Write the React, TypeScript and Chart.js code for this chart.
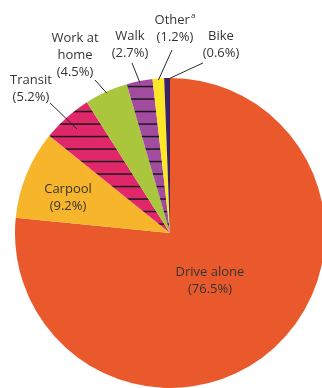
import { useEffect, useRef } from "react";
import { Chart, registerables } from "chart.js";

Chart.register(...registerables);

// ---- data ----
const categories = ["Drive alone", "Carpool", "Transit", "Work at home", "Walk", "Other", "Bike"];
const shares = [76.5, 9.2, 5.2, 4.5, 2.7, 1.2, 0.6];
const labelLines = [["Drive alone"], ["Carpool"], ["Transit"], ["Work at", "home"], ["Walk"], ["Other"], ["Bike"]];
const superscripts = ["", "", "", "", "", "a", ""];

// ---- styles ----
const colors = ["#E9592B", "#F7B52C", "#E0276A", "#A9C63C", "#A14C9E", "#FCE825", "#3B2167"];
const striped = [false, false, true, false, true, false, false];
// label placement relative to pie centre, in units of radius
const textPos = [
  [0.258, 0.31],
  [-0.658, -0.229],
  [-0.897, -0.932],
  [-0.613, -1.148],
  [-0.258, -1.216],
  [0.032, -1.319],
  [0.329, -1.216],
];
const leaderStart: (number[] | null)[] = [
  null,
  null,
  [-0.774, -0.839],
  [-0.484, -0.987],
  [-0.245, -1.097],
  [0.013, -1.181],
  [0.213, -1.097],
];
const leaderDepth = [0, 0, 0.9, 0.99, 0.99, 0.99, 0.99];

const FONT_FAMILY = "'Open Sans', 'Noto Sans', sans-serif";
const FONT_SIZE = 13;
const LINE_H = 17;

function makeStripes(color: string): CanvasPattern | string {
  const c = document.createElement("canvas");
  c.width = 8;
  c.height = 25;
  const ctx = c.getContext("2d");
  if (!ctx) return color;
  ctx.fillStyle = color;
  ctx.fillRect(0, 0, 8, 25);
  ctx.fillStyle = "#1a1a1a";
  ctx.fillRect(0, 10.8, 8, 1.5);
  ctx.fillRect(0, 23.3, 8, 1.5);
  const p = ctx.createPattern(c, "repeat");
  return p || color;
}

const labelPlugin = {
  id: "pieLabels",
  afterDatasetsDraw(chart: any) {
    const ctx: CanvasRenderingContext2D = chart.ctx;
    const meta = chart.getDatasetMeta(0);
    ctx.save();
    meta.data.forEach((arc: any, i: number) => {
      const { x, y, startAngle, endAngle, outerRadius } = arc.getProps(
        ["x", "y", "startAngle", "endAngle", "outerRadius"],
        true
      );
      const R = outerRadius;
      const mid = (startAngle + endAngle) / 2;
      const ls = leaderStart[i];
      if (ls) {
        ctx.strokeStyle = "#2a2a2a";
        ctx.lineWidth = 1;
        ctx.beginPath();
        ctx.moveTo(x + ls[0] * R, y + ls[1] * R);
        ctx.lineTo(x + Math.cos(mid) * R * leaderDepth[i], y + Math.sin(mid) * R * leaderDepth[i]);
        ctx.stroke();
      }
      const lines = [...labelLines[i], `(${shares[i]}%)`];
      const cx = x + textPos[i][0] * R;
      const cy = y + textPos[i][1] * R;
      const y0 = cy - ((lines.length - 1) * LINE_H) / 2;
      ctx.fillStyle = "#353535";
      ctx.textBaseline = "middle";
      lines.forEach((t, k) => {
        const ly = y0 + k * LINE_H;
        ctx.font = `${FONT_SIZE}px ${FONT_FAMILY}`;
        if (k === 0 && superscripts[i]) {
          const w = ctx.measureText(t).width;
          ctx.font = `${FONT_SIZE - 5}px ${FONT_FAMILY}`;
          const ws = ctx.measureText(superscripts[i]).width + 1;
          const sx = cx - (w + ws) / 2;
          ctx.textAlign = "left";
          ctx.font = `${FONT_SIZE}px ${FONT_FAMILY}`;
          ctx.fillText(t, sx, ly);
          ctx.font = `${FONT_SIZE - 5}px ${FONT_FAMILY}`;
          ctx.fillText(superscripts[i], sx + w + 1, ly - 4);
        } else {
          ctx.textAlign = "center";
          ctx.fillText(t, cx, ly);
        }
      });
    });
    ctx.restore();
  },
};

export default function App() {
  const ref = useRef<HTMLCanvasElement | null>(null);
  useEffect(() => {
    if (!ref.current) return;
    const bg = colors.map((c, i) => (striped[i] ? makeStripes(c) : c));
    const chart = new Chart(ref.current, {
      type: "pie",
      data: {
        labels: categories,
        datasets: [
          {
            data: shares,
            backgroundColor: bg as any,
            borderWidth: 0,
          },
        ],
      },
      options: {
        responsive: false,
        animation: false,
        layout: { padding: { left: 15, top: 78, right: 5, bottom: 0 } },
        plugins: {
          legend: { display: false },
          tooltip: { enabled: false },
        },
      },
      plugins: [labelPlugin],
    });
    return () => chart.destroy();
  }, []);
  return (
    <div
      style={{
        position: "fixed",
        left: 0,
        top: 0,
        width: 322,
        height: 388,
        overflow: "hidden",
        background: "#fff",
      }}
    >
      <canvas ref={ref} width={330} height={388} style={{ display: "block", width: 330, height: 388 }} />
    </div>
  );
}
